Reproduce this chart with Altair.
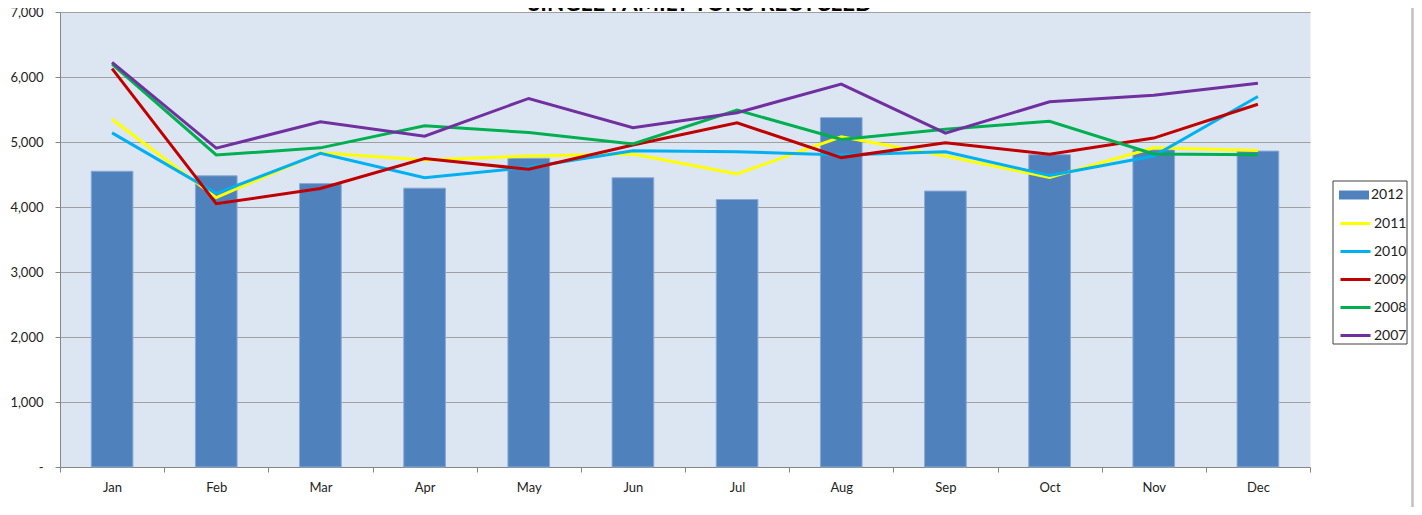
import altair as alt
import pandas as pd

months = ["Jan", "Feb", "Mar", "Apr", "May", "Jun", "Jul", "Aug", "Sep", "Oct", "Nov", "Dec"]
line_years = ["2011", "2010", "2009", "2008", "2007"]
line_colors = ["#FFFF00", "#00B0F0", "#C00000", "#00B050", "#7030A0"]
bar_year = "2012"
bar_color = "#4F81BD"
title_text = "SINGLE FAMILY TONS RECYCLED"

y2012 = [4550, 4480, 4360, 4290, 4750, 4450, 4115, 5375, 4245, 4805, 4880, 4860]
y2011 = [5350, 4145, 4835, 4725, 4785, 4815, 4510, 5080, 4785, 4455, 4910, 4870]
y2010 = [5140, 4210, 4825, 4450, 4610, 4865, 4850, 4800, 4850, 4485, 4785, 5700]
y2009 = [6130, 4050, 4285, 4745, 4580, 4955, 5295, 4760, 4990, 4810, 5060, 5580]
y2008 = [6200, 4800, 4910, 5250, 5145, 4970, 5490, 5040, 5195, 5320, 4815, 4805]
y2007 = [6225, 4905, 5310, 5090, 5670, 5220, 5450, 5890, 5135, 5620, 5720, 5905]

bar_df = pd.DataFrame({"month": months, "value": y2012, "year": bar_year})
line_rows = []
for yr, vals in zip(line_years, [y2011, y2010, y2009, y2008, y2007]):
    for i, (m, v) in enumerate(zip(months, vals)):
        line_rows.append({"month": m, "value": v, "year": yr, "idx": i})
line_df = pd.DataFrame(line_rows)

FONT = "Lato"
TXT = "#222222"

x_enc = alt.X(
    "month:N",
    sort=months,
    title=None,
    scale=alt.Scale(paddingInner=0, paddingOuter=0),
    axis=alt.Axis(
        labelAngle=0, tickBand="extent", tickSize=5, labelPadding=9,
        domainColor="#868686", tickColor="#868686", labelFont=FONT,
        labelFontSize=13, labelColor=TXT, grid=False,
    ),
)
y_enc = alt.Y(
    "value:Q",
    title=None,
    scale=alt.Scale(domain=[0, 7000], nice=False),
    axis=alt.Axis(
        values=list(range(0, 7001, 1000)),
        labelExpr="datum.value == 0 ? '-' : format(datum.value, ',')",
        tickSize=5, labelPadding=12, domainColor="#868686", tickColor="#868686",
        gridColor="#a0a0a0", gridWidth=1.2, labelFont=FONT, labelFontSize=13,
        labelColor=TXT,
    ),
)

legend_common = dict(
    title=None, orient="none", padding=6, rowPadding=11, symbolSize=256,
    labelOffset=16, labelFont=FONT, labelFontSize=14, labelColor=TXT,
)

bars = alt.Chart(bar_df).mark_bar(
    width=alt.RelativeBandSize(0.4), stroke="#8aa9d6", strokeWidth=1
).encode(
    x=x_enc,
    y=y_enc,
    fill=alt.Fill(
        "year:N",
        scale=alt.Scale(domain=[bar_year], range=[bar_color]),
        legend=alt.Legend(
            legendX=1273, legendY=169,
            symbolType="M-1,-0.56H2.75V0.56H-1Z", symbolStrokeWidth=0,
            **legend_common,
        ),
    ),
)

lines = alt.Chart(line_df).mark_line(strokeWidth=3).encode(
    x=x_enc,
    y=y_enc,
    stroke=alt.Stroke(
        "year:N",
        scale=alt.Scale(domain=line_years, range=line_colors),
        legend=alt.Legend(
            legendX=1273, legendY=196,
            symbolType="M-1,0H2.75", symbolStrokeWidth=3,
            **legend_common,
        ),
    ),
    order=alt.Order("idx:Q"),
)

frame = pd.DataFrame({"k": [0]})
box = alt.Chart(frame).mark_rect(
    fill="transparent", stroke="#404040", strokeWidth=1
).encode(
    x=alt.value(1273), x2=alt.value(1347), y=alt.value(169), y2=alt.value(332)
)

edge = alt.Chart(frame).mark_rule(color="#c0c0c0", strokeWidth=2.5).encode(
    x=alt.value(1352.5), y=alt.value(-12), y2=alt.value(503)
)

title_df = pd.DataFrame({"t": [title_text]})
title = alt.Chart(title_df).mark_text(
    font=FONT, fontSize=22.5, fontWeight="bold", baseline="alphabetic", align="center",
    color="#000000",
).encode(text="t:N", x=alt.value(640), y=alt.value(-1))

chart = alt.layer(bars, lines, box, edge, title).properties(
    width=1250,
    height=455,
    padding={"left": 52, "top": 4, "right": 104, "bottom": 40},
    autosize=alt.AutoSizeParams(type="none"),
).configure_view(fill="#DCE6F2", stroke="transparent")

chart.save("out.html", embed_options={"renderer": "svg", "actions": False})
